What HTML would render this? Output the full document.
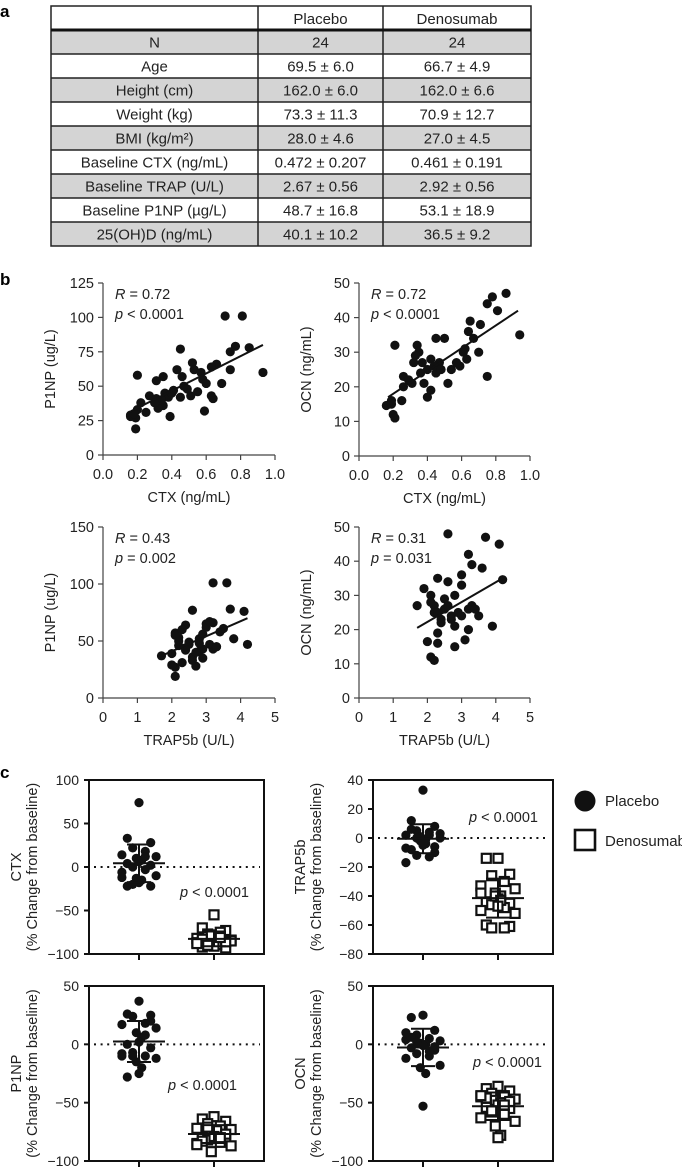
<!DOCTYPE html>
<html><head><meta charset="utf-8"><style>
html,body{margin:0;padding:0;background:#fff;}
svg{display:block;font-family:"Liberation Sans",Arial,sans-serif;}
</style></head><body>
<svg id="fig" width="682" height="1169" viewBox="0 0 682 1169" xmlns="http://www.w3.org/2000/svg">
<g id="tbl"></g>
<g id="pb"></g>
<g id="pc"></g>
<text x="0" y="17" font-size="17" font-weight="bold">a</text>
<text x="0" y="285" font-size="17" font-weight="bold">b</text>
<text x="0" y="778" font-size="17" font-weight="bold">c</text>
<g>
<circle cx="585" cy="801" r="10.5" fill="#111"></circle>
<text x="605" y="806" font-size="15" fill="#222">Placebo</text>
<rect x="575" y="830" width="20" height="20" fill="#fff" stroke="#111" stroke-width="2.6"></rect>
<text x="605" y="846" font-size="15" fill="#222">Denosumab</text>
</g>
</svg>
<script>
var NS="http://www.w3.org/2000/svg";
function mk(p,t,a,txt){var e=document.createElementNS(NS,t);for(var k in a)e.setAttribute(k,a[k]);if(txt!==undefined)e.textContent=txt;p.appendChild(e);return e;}

// ---- Table data ----
var tableHeader=["","Placebo","Denosumab"];
var tableRows=[["N","24","24"],["Age","69.5 ± 6.0","66.7 ± 4.9"],["Height (cm)","162.0 ± 6.0","162.0 ± 6.6"],["Weight (kg)","73.3 ± 11.3","70.9 ± 12.7"],["BMI (kg/m²)","28.0 ± 4.6","27.0 ± 4.5"],["Baseline CTX (ng/mL)","0.472 ± 0.207","0.461 ± 0.191"],["Baseline TRAP (U/L)","2.67 ± 0.56","2.92 ± 0.56"],["Baseline P1NP (µg/L)","48.7 ± 16.8","53.1 ± 18.9"],["25(OH)D (ng/mL)","40.1 ± 10.2","36.5 ± 9.2"]];

// ---- Panel b data ----
var ctx1=[.71,.81,.45,.85,.77,.74,.93,.74,.2,.43,.35,.31,.52,.53,.66,.63,.46,.58,.6,.69,.49,.41,.36,.27,.31,.38,.45,.51,.63,.64,.59,.35,.32,.25,.39,.16,.19,.2,.19,.16,.22,.55,.34,.40,.57,.30,.18,.47];
var p1np1=[101,101,77,78,79,75,60,62,58,62,57,54,67,62,66,64,57,55,52,52,48,47,45,43,41,42,42,43,43,41,32,36,34,31,28,29,27,33,19,28,38,46,40,45,60,38,30,50];
var ctx2=[.86,.78,.75,.81,.94,.71,.65,.64,.67,.7,.61,.63,.59,.54,.5,.45,.21,.34,.35,.42,.47,.37,.32,.4,.36,.45,.75,.52,.38,.31,.26,.26,.42,.4,.25,.19,.16,.19,.2,.21,.44,.33,.57,.29,.48,.62];
var ocn2=[47,46,44,42,35,38,39,36,34,30,30,28,26,25,34,34,32,32,30,28,27,27,27,25,24,24,23,21,21,21,23,20,19,17,16,16,14.6,15,12,11,26,29,27,22,25,31];
var trap3=[3.2,3.6,2.6,3.7,4.1,4.2,3.8,3.5,3.2,3.0,2.4,2.1,2.2,2.5,2.8,2.9,3.2,2.8,2.4,2.0,1.7,2.1,2.3,2.7,2.6,2.1,3.1,2.9,2.2,3.4,2.1,2.3,2.5,2.7,3.0,3.3,2.2,2.6,2.9,3.1,2.4,2.0,3.3,2.8];
var p1np3=[101,101,77,78,76,47,52,61,66,65,64,57,53,49,52,56,43,41,44,39,37,27,31,28,36,19,47,43,46,58,55,60,47,40,62,45,50,33,35,67,42,29,45,48];
var trap4=[2.6,3.7,4.1,3.2,3.3,3.6,4.2,3.0,3.0,2.3,2.6,1.9,2.1,1.7,2.8,3.3,3.5,3.9,3.2,3.1,2.8,2.3,2.0,2.3,2.1,2.2,2.5,2.7,2.2,2.6,2.9,3.2,2.4,2.1,2.4,2.8,3.0,2.5,2.2,3.4,2.7,2.3];
var ocn4=[48,47,45,42,39,38,34.6,36,33,35,34,32,30,27,30,27,24,21,20,17,15,19,16.5,16,12,11,26,24,27,27,25,26,23,28,22,21,24,29,25,26,23,25];
var fitLines=[[0.15,31,0.93,80],[0.17,17,0.93,42],[1.7,37,4.2,70],[1.7,20.5,4.2,35]];
var statR=["0.72","0.72","0.43","0.31"];
var statP=["< 0.0001","< 0.0001","= 0.002","= 0.031"];
var xTicksCTX=["0.0","0.2","0.4","0.6","0.8","1.0"];
var xTicksTRAP=["0","1","2","3","4","5"];

// ---- Panel c data ----
var ctxPla=[74,33,28,22,18,14,12,10,8,6,4,2,0,-3,-6,-10,-13,-15,-18,-22,-22,-20,12,-12];
var ctxDen=[-55,-70,-73,-77,-80,-82,-84,-86,-88,-90,-92,-93,-80,-75,-87,-85,-78,-89,-91,-83,-86,-90,-81,-88];
var trapPla=[33,12,8,5,4,2,0,-2,-4,-5,-8,-10,-12,-13,-17,3,1,-1,-3,6,-6,0,2,-7];
var trapDen=[-14,-14,-25,-26,-30,-33,-35,-38,-40,-42,-44,-45,-46,-48,-50,-52,-40,-43,-47,-60,-61,-62,-62,-38];
var p1npPla=[37,26,25,24,18,17,14,10,6,2,0,-3,-7,-10,-10,-12,-15,-20,-25,-28,20,-10,8,-8];
var p1npDen=[-62,-64,-66,-68,-70,-72,-73,-75,-76,-78,-80,-81,-82,-84,-85,-87,-92,-74,-79,-83,-77,-71,-80,-86];
var ocnPla=[25,23,12,8,5,4,3,1,0,-1,-3,-5,-8,-10,-12,-18,-20,-25,-53,6,-2,2,-6,10];
var ocnDen=[-36,-38,-40,-42,-44,-45,-47,-48,-50,-52,-54,-55,-58,-60,-63,-66,-70,-78,-80,-46,-49,-57,-52,-44];
var ticksCTX=[100,50,0,-50,-100];
var ticksTRAP=[40,20,0,-20,-40,-60,-80];
var ticksP1NP=[50,0,-50,-100];
var ticksOCN=[50,0,-50,-100];

// ---- draw table ----
(function(){
  var g=document.getElementById('tbl');
  var x0=51,x1=531,c1=258,c2=383,top=6,hb=30,rh=24;
  var cx=[(x0+c1)/2,(c1+c2)/2,(c2+x1)/2];
  tableRows.forEach(function(r,i){
    var y=hb+i*rh;
    var row=mk(g,'g',{});
    
    
    mk(row,'rect',{x:x0,y:y,width:x1-x0,height:rh,fill:(i%2==0)?'#d4d4d4':'#fff'});
    r.forEach(function(t,j){var e=mk(row,'text',{x:cx[j],y:y+rh/2+5.5,'text-anchor':'middle','font-size':15,fill:'#222'},t);
      
      });
  });
  tableHeader.forEach(function(t,j){if(t){var e=mk(g,'text',{x:cx[j],y:top+18,'text-anchor':'middle','font-size':15,fill:'#222'},t);
    
    }});
  var bot=hb+tableRows.length*rh;
  mk(g,'rect',{x:x0,y:top,width:x1-x0,height:bot-top,fill:'none',stroke:'#222','stroke-width':1.5});
  mk(g,'line',{x1:c1,y1:top,x2:c1,y2:bot,stroke:'#222','stroke-width':1.5});
  mk(g,'line',{x1:c2,y1:top,x2:c2,y2:bot,stroke:'#222','stroke-width':1.5});
  mk(g,'line',{x1:x0,y1:hb,x2:x1,y2:hb,stroke:'#111','stroke-width':3});
  for(var i=1;i<tableRows.length;i++)mk(g,'line',{x1:x0,y1:hb+i*rh,x2:x1,y2:hb+i*rh,stroke:'#222','stroke-width':1.5});
})();

// ---- scatter ----
function scatter(o){
  var g=mk(document.getElementById('pb'),'g',{});
  
  
  function X(v){return o.px0+(v-o.xmin)/(o.xmax-o.xmin)*(o.px1-o.px0);}
  function Y(v){return o.py0-(v/o.ymax)*(o.py0-o.py1);}
  var ax=mk(g,'g',{stroke:'#444','stroke-width':1.2});
  
  
  mk(ax,'line',{x1:o.px0,y1:o.py0,x2:o.px0,y2:o.py1});
  mk(ax,'line',{x1:o.px0,y1:o.py0,x2:o.px1,y2:o.py0});
  o.yt.forEach(function(v){var y=Y(v);mk(ax,'line',{x1:o.px0-5,y1:y,x2:o.px0,y2:y});
    var t=mk(g,'text',{x:o.px0-9,y:y+5,'text-anchor':'end','font-size':14.5,fill:'#222'},String(v));
    
    });
  o.xt.forEach(function(s,i){var x=X(o.xmin+i*(o.xmax-o.xmin)/(o.xt.length-1));mk(ax,'line',{x1:x,y1:o.py0,x2:x,y2:o.py0+5});
    var t=mk(g,'text',{x:x,y:o.py0+24,'text-anchor':'middle','font-size':14.5,fill:'#222'},s);
    
    });
  var xl=mk(g,'text',{x:(o.px0+o.px1)/2,y:o.py0+47,'text-anchor':'middle','font-size':14.5,fill:'#222'},o.xlab);
  
  
  var yl=mk(g,'text',{x:0,y:0,'text-anchor':'middle','font-size':14.5,fill:'#222',transform:'translate('+(o.px0-48)+','+((o.py0+o.py1)/2)+') rotate(-90)'},o.ylab);
  
  
  o.xs.forEach(function(v,i){var c=mk(g,'circle',{cx:X(v),cy:Y(o.ys[i]),r:4.6,fill:'#111'});
    
    });
  var f=o.fit;var l=mk(g,'line',{x1:X(f[0]),y1:Y(f[1]),x2:X(f[2]),y2:Y(f[3]),stroke:'#111','stroke-width':2});
  
  
  var r=mk(g,'text',{x:o.px0+12,y:o.py1+16,'font-size':14.5,fill:'#222'});
  
  
  mk(r,'tspan',{'font-style':'italic'},'R');mk(r,'tspan',{},' = '+o.R);
  var p=mk(g,'text',{x:o.px0+12,y:o.py1+36,'font-size':14.5,fill:'#222'});
  
  
  mk(p,'tspan',{'font-style':'italic'},'p');mk(p,'tspan',{},' '+o.P);
}
scatter({name:'scatter-ctx-p1np',xs:ctx1,ys:p1np1,xmin:0,xmax:1,ymax:125,px0:103,px1:275,py0:455,py1:283,yt:[0,25,50,75,100,125],xt:xTicksCTX,xlab:'CTX (ng/mL)',ylab:'P1NP (ug/L)',fit:fitLines[0],R:statR[0],P:statP[0]});
scatter({name:'scatter-ctx-ocn',xs:ctx2,ys:ocn2,xmin:0,xmax:1,ymax:50,px0:359,px1:530,py0:456,py1:283,yt:[0,10,20,30,40,50],xt:xTicksCTX,xlab:'CTX (ng/mL)',ylab:'OCN (ng/mL)',fit:fitLines[1],R:statR[1],P:statP[1]});
scatter({name:'scatter-trap-p1np',xs:trap3,ys:p1np3,xmin:0,xmax:5,ymax:150,px0:103,px1:275,py0:698,py1:527,yt:[0,50,100,150],xt:xTicksTRAP,xlab:'TRAP5b (U/L)',ylab:'P1NP (ug/L)',fit:fitLines[2],R:statR[2],P:statP[2]});
scatter({name:'scatter-trap-ocn',xs:trap4,ys:ocn4,xmin:0,xmax:5,ymax:50,px0:359,px1:530,py0:698,py1:527,yt:[0,10,20,30,40,50],xt:xTicksTRAP,xlab:'TRAP5b (U/L)',ylab:'OCN (ng/mL)',fit:fitLines[3],R:statR[3],P:statP[3]});

// ---- dot plots ----
function stats(a){var m=a.reduce(function(s,v){return s+v;},0)/a.length;var sd=Math.sqrt(a.reduce(function(s,v){return s+(v-m)*(v-m);},0)/(a.length-1));return [m,sd];}
function dotplot(o){
  var g=mk(document.getElementById('pc'),'g',{});
  
  
  var ymax=o.ticks[0],ymin=o.ticks[o.ticks.length-1];
  function Y(v){return o.y1+(ymax-v)/(ymax-ymin)*(o.y2-o.y1);}
  var xp=o.x1+50,xd=o.x1+125;
  var dl=mk(g,'line',{x1:o.x1+5,y1:Y(0),x2:o.x2-4,y2:Y(0),stroke:'#111','stroke-width':2,'stroke-dasharray':'2 4.6'});
  
  
  o.ticks.forEach(function(v){var y=Y(v);mk(g,'line',{x1:o.x1-5,y1:y,x2:o.x1,y2:y,stroke:'#111','stroke-width':2});
    var t=mk(g,'text',{x:o.x1-10,y:y+5,'text-anchor':'end','font-size':14,fill:'#222'},v<0?'\u2212'+(-v):String(v));
    
    });
  [xp,xd].forEach(function(x){mk(g,'line',{x1:x,y1:o.y2,x2:x,y2:o.y2+6,stroke:'#111','stroke-width':2});});
  function jit(i){var p=[0,-13,13,-7,7,-19,19,-3,3];return p[i%9]*0.9;}
  function group(vals,x,sq){
    vals.forEach(function(v,i){var xx=x+jit(i);
      var e=sq?mk(g,'rect',{x:xx-4.5,y:Y(v)-4.5,width:9,height:9,fill:'#fff',stroke:'#111','stroke-width':2.2}):mk(g,'circle',{cx:xx,cy:Y(v),r:4.6,fill:'#111'});
      
      });
    var s=stats(vals);
    var m=mk(g,'line',{x1:x-26,y1:Y(s[0]),x2:x+26,y2:Y(s[0]),stroke:'#111','stroke-width':2});
    
    
    var e=mk(g,'path',{d:'M'+x+' '+Y(s[0]+s[1])+'V'+Y(s[0]-s[1])+'M'+(x-12)+' '+Y(s[0]+s[1])+'H'+(x+12)+'M'+(x-12)+' '+Y(s[0]-s[1])+'H'+(x+12),stroke:'#111','stroke-width':2,fill:'none'});
    
    
  }
  group(o.pla,xp,false);group(o.den,xd,true);
  var b=mk(g,'rect',{x:o.x1,y:o.y1,width:o.x2-o.x1,height:o.y2-o.y1,fill:'none',stroke:'#111','stroke-width':2});
  
  
  var p=mk(g,'text',{x:o.px,y:o.py,'font-size':14.5,fill:'#222'});
  
  
  mk(p,'tspan',{'font-style':'italic'},'p');mk(p,'tspan',{},' < 0.0001');
  var cy=(o.y1+o.y2)/2;
  var t1=mk(g,'text',{x:0,y:0,'text-anchor':'middle','font-size':14.5,fill:'#222',transform:'translate('+(o.x1-68)+','+cy+') rotate(-90)'},o.lab);
  
  
  var t2=mk(g,'text',{x:0,y:0,'text-anchor':'middle','font-size':14.5,fill:'#222',transform:'translate('+(o.x1-52)+','+cy+') rotate(-90)'},'(% Change from baseline)');
  
  
}
dotplot({name:'dotplot-ctx',pla:ctxPla,den:ctxDen,ticks:ticksCTX,x1:89,x2:264,y1:780,y2:954,px:180,py:897,lab:'CTX'});
dotplot({name:'dotplot-trap5b',pla:trapPla,den:trapDen,ticks:ticksTRAP,x1:373,x2:553,y1:780,y2:954,px:469,py:822,lab:'TRAP5b'});
dotplot({name:'dotplot-p1np',pla:p1npPla,den:p1npDen,ticks:ticksP1NP,x1:89,x2:264,y1:986,y2:1161,px:168,py:1090,lab:'P1NP'});
dotplot({name:'dotplot-ocn',pla:ocnPla,den:ocnDen,ticks:ticksOCN,x1:373,x2:553,y1:986,y2:1161,px:473,py:1067,lab:'OCN'});
</script>
</body></html>
